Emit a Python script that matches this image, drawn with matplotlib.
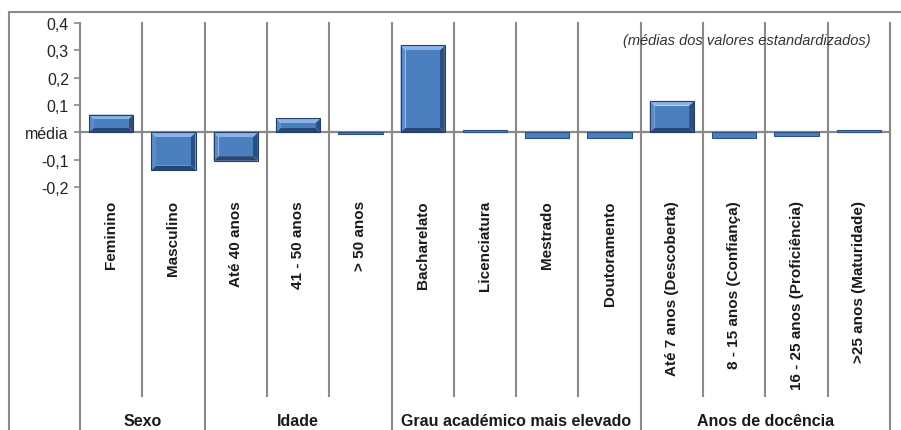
import matplotlib.pyplot as plt
from matplotlib.patches import Rectangle
import matplotlib.transforms as mtransforms

plt.rcParams['font.family'] = ['Liberation Sans', 'DejaVu Sans']

categorias = ['Feminino', 'Masculino', 'Até 40 anos', '41 - 50 anos', '> 50 anos',
              'Bacharelato', 'Licenciatura', 'Mestrado', 'Doutoramento',
              'Até 7 anos (Descoberta)', '8 - 15 anos (Confiança)',
              '16 - 25 anos (Proficiência)', '>25 anos (Maturidade)']
valores = [0.065, -0.138, -0.104, 0.051, -0.006,
           0.318, 0.008, -0.021, -0.020,
           0.115, -0.020, -0.015, 0.010]
grupos = ['Sexo', 'Idade', 'Grau académico mais elevado', 'Anos de docência']
tamanho_grupos = [2, 3, 4, 4]
y_ticks = [-0.2, -0.1, 0, 0.1, 0.2, 0.3, 0.4]
y_labels = ['-0,2', '-0,1', 'média', '0,1', '0,2', '0,3', '0,4']

W, H = 901, 431
fig = plt.figure(figsize=(W / 100, H / 100), dpi=100)
ax_top, ax_bot, ax_l, ax_r = 24, 188, 80, 890
ax = fig.add_axes([ax_l / W, (H - ax_bot) / H, (ax_r - ax_l) / W, (ax_bot - ax_top) / H])
ax.set_xlim(-0.5, len(categorias) - 0.5)
ax.set_ylim(-0.2, 0.4)
for s in ax.spines.values():
    s.set_visible(False)

def ay(py):
    # pixel row -> axes fraction
    return (ax_bot - py) / (ax_bot - ax_top)

grey = '#8a8a8a'
trans = mtransforms.blended_transform_factory(ax.transData, ax.transAxes)

# linha da média
ax.axhline(0, color=grey, lw=1.6, zorder=1)

# separadores das categorias e dos grupos
fronteiras = [-0.5]
for n in tamanho_grupos:
    fronteiras.append(fronteiras[-1] + n)
for i in range(len(categorias) + 1):
    x = i - 0.5
    bottom = ay(H + 2) if x in fronteiras else ay(397)
    ax.plot([x, x], [1, bottom], color=grey, lw=1.5, transform=trans,
            clip_on=False, zorder=1)

# barras com relevo (bordas em bisel)
w = 0.71
dx, dy = 0.08, 0.017
for i, v in enumerate(valores):
    b, t = min(0, v), max(0, v)
    h = t - b
    l, r = i - w / 2, i + w / 2
    if h < 2.5 * dy:
        ax.bar(i, h, w, bottom=b, color='#4a7ebf', edgecolor='#2d5282',
               lw=0.8, zorder=3)
        continue
    # lados: esquerdo, direito, topo, base
    ax.fill([l, l + dx, l + dx, l], [b, b + dy, t - dy, t], color='#5b8bc9', lw=0, zorder=3)
    ax.fill([r, r - dx, r - dx, r], [b, b + dy, t - dy, t], color='#2b4f7f', lw=0, zorder=3)
    ax.fill([l, r, r - dx, l + dx], [t, t, t - dy, t - dy], color='#8ab2e6', lw=0, zorder=3)
    ax.fill([l, r, r - dx, l + dx], [b, b, b + dy, b + dy], color='#274876', lw=0, zorder=3)
    ax.bar(i, h - 2 * dy, w - 2 * dx, bottom=b + dy, color='#4b7fc0', lw=0, zorder=4)
    ax.bar(i, h, w, bottom=b, fill=False, edgecolor='#22406a', lw=0.8, zorder=5)

ax.set_xticks([])
ax.set_yticks(y_ticks)
ax.set_yticklabels(y_labels, fontsize=11.5, color='#222222')
ax.tick_params(axis='y', direction='out', length=4, color=grey, width=1.2, pad=4)

# rótulos das categorias
for i, c in enumerate(categorias):
    ax.text(i, ay(201), c, rotation=90, ha='center', va='top',
            fontsize=11, fontweight='bold', color='#1a1a1a', transform=trans,
            clip_on=False)

# rótulos dos grupos
for k, g in enumerate(grupos):
    xc = (fronteiras[k] + fronteiras[k + 1]) / 2
    ax.text(xc, ay(422), g, ha='center', va='center', fontsize=11.5,
            fontweight='bold', color='#1a1a1a', transform=trans, clip_on=False)

ax.text(871 / W, (H - 41) / H, '(médias dos valores estandardizados)',
        transform=fig.transFigure, ha='right', va='center', fontsize=10.5,
        style='italic', color='#333333')

# moldura exterior
fig.add_artist(Rectangle((8.5 / W, -0.05), 2.0, (H - 12.5) / H + 0.05,
                         transform=fig.transFigure, fill=False,
                         edgecolor=grey, lw=1.5))

fig.savefig('out.png', dpi=100)
